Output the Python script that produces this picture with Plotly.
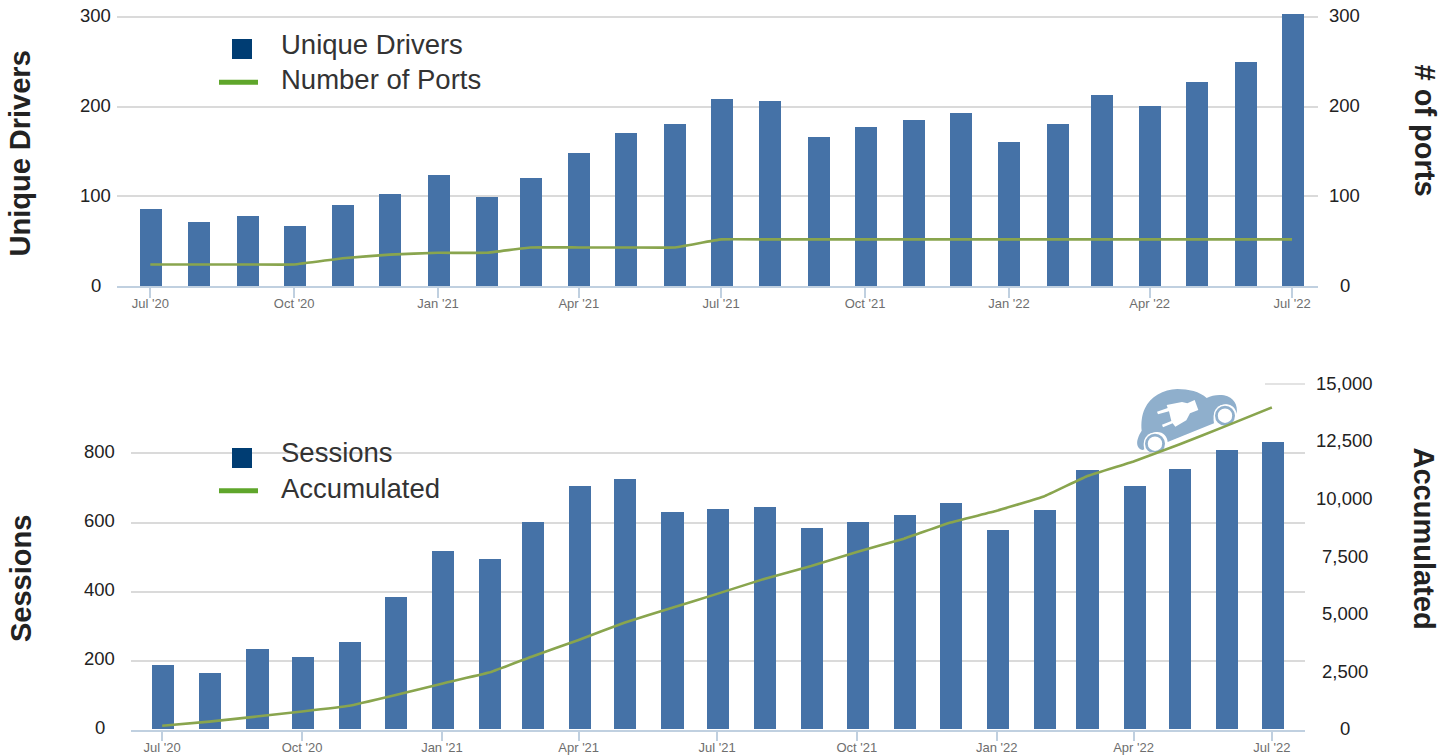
import plotly.graph_objects as go

W, H = 1455, 755

months = [
    "2020-07-01", "2020-08-01", "2020-09-01", "2020-10-01", "2020-11-01", "2020-12-01",
    "2021-01-01", "2021-02-01", "2021-03-01", "2021-04-01", "2021-05-01", "2021-06-01",
    "2021-07-01", "2021-08-01", "2021-09-01", "2021-10-01", "2021-11-01", "2021-12-01",
    "2022-01-01", "2022-02-01", "2022-03-01", "2022-04-01", "2022-05-01", "2022-06-01",
    "2022-07-01",
]
unique_drivers = [86, 71, 78, 67, 90, 103, 124, 99, 120, 148, 171, 181,
                  209, 206, 166, 177, 185, 193, 161, 181, 213, 201, 228, 250, 304]
number_of_ports = [24, 24, 24, 24, 31, 35, 37, 37, 43, 43, 43, 43,
                   52, 52, 52, 52, 52, 52, 52, 52, 52, 52, 52, 52, 52]
sessions = [187, 164, 234, 210, 254, 384, 517, 494, 601, 706, 726, 630,
            639, 645, 584, 601, 622, 656, 578, 636, 752, 706, 755, 810, 833]
accumulated = [170, 350, 570, 790, 1040, 1500, 2000, 2480, 3170, 3900, 4650, 5290,
               5900, 6550, 7110, 7720, 8300, 8990, 9510, 10130, 11000, 11650, 12390, 13200, 14000]

top_ticks = [0, 100, 200, 300]
sessions_ticks = [0, 200, 400, 600, 800]
accumulated_ticks = [0, 2500, 5000, 7500, 10000, 12500, 15000]

BAR = "#4572A7"
LINE = "#89A54E"
AXIS = "#C0D0E0"
GRID = "#DADADA"
TEXT = "#222222"
LEGEND_TEXT = "#333333"
KEY_BAR = "#003D73"
KEY_LINE = "#5FA62B"
CAR = "#8FAFCC"
FONT = "Liberation Sans"
DAY_MS = 86400000


def px(x):
    return x / W


def py(y):
    return 1 - y / H


fig = go.Figure()
top_width = 14.07 * DAY_MS
low_width = 14.5 * DAY_MS

fig.add_bar(x=months, y=unique_drivers, name="Unique Drivers", marker=dict(color=BAR, line_width=0),
            width=top_width, offset=-top_width / 2 + 0.5 * DAY_MS, xaxis="x", yaxis="y")
fig.add_scatter(x=months, y=number_of_ports, name="Number of Ports", mode="lines",
                line=dict(color=LINE, width=2.6, shape="spline", smoothing=0.25), xaxis="x", yaxis="y2")
fig.add_bar(x=months, y=sessions, name="Sessions", marker=dict(color=BAR, line_width=0),
            width=low_width, offset=-low_width / 2 + 0.5 * DAY_MS, xaxis="x2", yaxis="y3")
fig.add_scatter(x=months, y=accumulated, name="Accumulated", mode="lines",
                line=dict(color=LINE, width=2.6, shape="spline", smoothing=0.25), xaxis="x2", yaxis="y4")

date_axis = dict(type="date", tick0="2020-07-01", dtick="M3", tickformat="%b '%y",
                 ticks="outside", ticklen=10, tickwidth=1.5, tickcolor=AXIS, ticklabelstandoff=-5,
                 showline=True, linecolor=AXIS, linewidth=1.5, showgrid=False, zeroline=False,
                 tickfont=dict(family=FONT, size=13, color="#6E6E6E"))
value_axis = dict(showticklabels=False, ticks="", showline=False, zeroline=False,
                  gridcolor=GRID, gridwidth=1.5)
shadow_axis = dict(showticklabels=False, ticks="", showline=False, zeroline=False,
                   showgrid=False, side="right")

fig.update_layout(
    width=W, height=H, margin=dict(l=0, r=0, t=0, b=0, autoexpand=False),
    paper_bgcolor="white", plot_bgcolor="white", showlegend=False, bargap=0,
    font=dict(family=FONT),
    xaxis=dict(date_axis, domain=[px(117.3), px(1318)], anchor="y",
               range=["2020-06-09 21:36", "2022-07-17 14:24"]),
    xaxis2=dict(date_axis, domain=[px(130.7), px(1305)], anchor="y3",
                range=["2020-06-10 07:00", "2022-07-22 19:00"]),
    yaxis=dict(value_axis, domain=[py(286), py(14)], range=[0, 303.3], tickvals=top_ticks, anchor="x"),
    yaxis2=dict(shadow_axis, domain=[py(286), py(14)], range=[0, 303.3], anchor="x",
                overlaying="y", tickvals=top_ticks),
    yaxis3=dict(value_axis, domain=[py(729.7), py(384.4)], range=[0, 1000], tickvals=sessions_ticks, anchor="x2"),
    yaxis4=dict(shadow_axis, domain=[py(729.7), py(384.4)], range=[0, 15000], anchor="x2",
                overlaying="y3", tickvals=accumulated_ticks),
)

annotations = []


def tick_labels(values, yref, center_x, yshift):
    """Tick labels are centred in their column, which axis labels cannot do."""
    for v in values:
        annotations.append(dict(text=f"{v:,}", x=px(center_x), xref="paper", y=v, yref=yref,
                                xanchor="center", yanchor="middle", showarrow=False, yshift=yshift,
                                font=dict(family=FONT, size=18.5, color=TEXT)))


tick_labels(top_ticks, "y", 95.5, 1)
tick_labels(top_ticks, "y2", 1344.5, 1)
tick_labels(sessions_ticks, "y3", 99.5, 2)
tick_labels(accumulated_ticks, "y4", 1344.5, 1)


def axis_title(text, x, y, angle):
    annotations.append(dict(text=f"<b>{text}</b>", x=px(x), y=py(y), xref="paper", yref="paper",
                            xanchor="center", yanchor="middle", showarrow=False, textangle=angle,
                            font=dict(family=FONT, size=29, color=TEXT)))


axis_title("Unique Drivers", 20, 153.5, -90)
axis_title("# of ports", 1425, 130.5, 90)
axis_title("Sessions", 21, 579, -90)
axis_title("Accumulated", 1424, 538.5, 90)


def key_text(text, y):
    annotations.append(dict(text=text, x=px(279), y=py(y), xref="paper", yref="paper",
                            xanchor="left", yanchor="middle", showarrow=False,
                            font=dict(family=FONT, size=27.5, color=LEGEND_TEXT)))


key_text("Unique Drivers", 44)
key_text("Number of Ports", 80)
key_text("Sessions", 452)
key_text("Accumulated", 488)

shapes = []


def paper_shape(kind, x0, y0, x1, y1, **kw):
    shapes.append(dict(type=kind, xref="paper", yref="paper",
                       x0=px(x0), x1=px(x1), y0=py(y0), y1=py(y1), **kw))


# Legend keys
paper_shape("rect", 232, 39, 252, 59, fillcolor=KEY_BAR, line_width=0)
paper_shape("line", 219, 82.3, 258, 82.3, line=dict(color=KEY_LINE, width=5))
paper_shape("rect", 232, 448, 252, 468, fillcolor=KEY_BAR, line_width=0)
paper_shape("line", 219, 490.7, 258, 490.7, line=dict(color=KEY_LINE, width=5))

# The top gridline of the lower chart only shows to the right of the car badge
paper_shape("line", 1265, 384, 1305, 384, line=dict(color=GRID, width=1.5), layer="below")


# Car badge, drawn on a 3x grid anchored at its top-left corner
def badge(points):
    out = []
    for token in points.split():
        if "," in token:
            a, b = token.split(",")
            out.append(f"{px(1100 + float(a) / 3):.6f},{py(370 + float(b) / 3):.6f}")
        else:
            out.append(token)
    return " ".join(out)


car_body = ("M 114,205 C 108,220 112,238 128,240 L 133,238 C 126,205 150,186 172,186 "
            "C 190,186 202,200 203,216 L 342,160 C 336,130 352,103 378,103 "
            "C 396,103 408,116 410,132 C 414,105 402,82 372,76 C 352,73 335,77 320,84 "
            "C 300,65 265,57 232,57 C 190,58 150,80 135,115 C 125,135 123,160 125,182 "
            "C 120,190 116,197 114,205 Z")
plug = ("M 171,125 L 203,114 L 200,105 L 246,96 L 262,100 L 284,90 L 295,120 L 270,130 "
        "L 259,151 L 226,170 L 218,160 L 189,172 L 186,164 L 214,153 L 207,124 L 174,133 Z")

shapes.append(dict(type="path", xref="paper", yref="paper", path=badge(car_body),
                   fillcolor=CAR, line_width=0, layer="below"))
shapes.append(dict(type="path", xref="paper", yref="paper", path=badge(plug),
                   fillcolor="white", line_width=0, layer="below"))
for wx, wy in [(1155, 443.7), (1225, 415.7)]:
    for r, colour in [(11.3, "white"), (10.0, CAR), (7.2, "white")]:
        shapes.append(dict(type="circle", xref="paper", yref="paper", x0=px(wx - r), x1=px(wx + r),
                           y0=py(wy + r), y1=py(wy - r), fillcolor=colour, line_width=0, layer="below"))

fig.update_layout(annotations=annotations, shapes=shapes)
fig.write_html("out.html", config=dict(displayModeBar=False))
